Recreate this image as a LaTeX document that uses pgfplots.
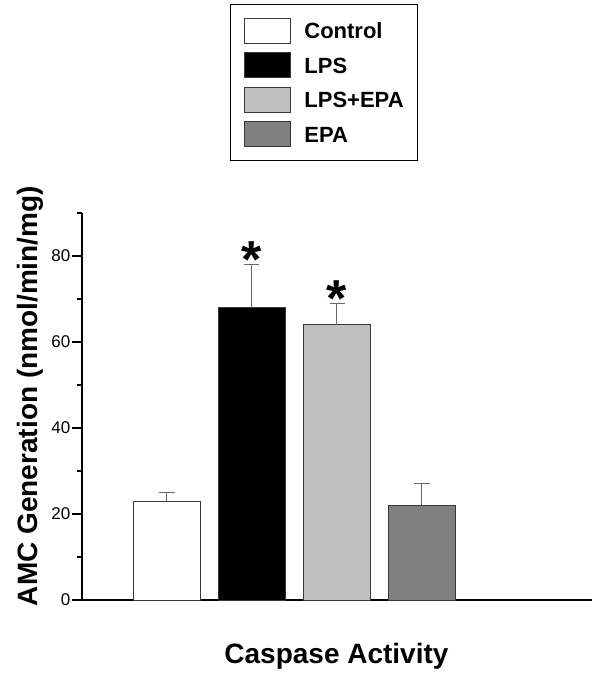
\documentclass[border=0pt]{standalone}
\usepackage{fontspec}
\setmainfont{Liberation Sans}
\usepackage{pgfplots}
\pgfplotsset{compat=1.18}
\definecolor{lpsepa}{RGB}{192,192,192}
\definecolor{epa}{RGB}{128,128,128}
\definecolor{edge}{RGB}{55,55,55}
\definecolor{errc}{RGB}{105,105,105}

\pgfplotsset{
  sw/.style={bar shift=0pt, draw=edge, line width=1pt,
    legend image code/.code={\draw[##1] (0pt,-12.5pt) rectangle (46pt,12.5pt);},
    error bars/y dir=plus, error bars/y explicit,
    error bars/error bar style={errc, line width=1pt},
    error bars/error mark options={errc, rotate=90, mark size=7.5pt, line width=1pt}},
}

\begin{document}
\begin{tikzpicture}
\begin{axis}[name=ax,
  scale only axis, width=510pt, height=387pt,
  xmin=0, xmax=6, ymin=0, ymax=90,
  clip=false,
  ybar, bar width=67pt,
  axis x line*=bottom, axis y line*=left,
  axis line style={line width=1.7pt, black},
  xtick=\empty,
  ytick={0,20,40,60,80}, minor ytick={10,30,50,70,90},
  tick align=outside, major tick length=10pt, minor tick length=5pt,
  tick style={line width=1.2pt, black},
  yticklabel style={font=\fontsize{17}{18}\selectfont, inner sep=1.5pt},
  /pgf/number format/assume math mode=true,
  ylabel={AMC Generation (nmol/min/mg)},
  ylabel style={at={(axis description cs:-0.088,0.527)}, anchor=base, inner sep=0pt,
    font=\fontsize{28}{30}\selectfont\bfseries},
  xlabel={Caspase Activity},
  xlabel style={at={(axis description cs:0.499,-0.163)}, anchor=base, inner sep=0pt,
    font=\fontsize{28}{30}\selectfont\bfseries},
  legend cell align=left,
  legend style={at={(axis description cs:0.290,1.540)}, anchor=north west,
    draw=black, line width=1pt, inner xsep=14pt, inner ysep=13pt,
    row sep=8.5pt, column sep=13pt,
    font=\fontsize{22}{24}\selectfont\bfseries,
    nodes={inner sep=0pt, text height=16pt, text depth=0pt}},
]
\addplot[sw, fill=white] coordinates {(1,23) +- (0,2)};
\addplot[sw, fill=black] coordinates {(2,68) +- (0,10)};
\addplot[sw, fill=lpsepa] coordinates {(3,64) +- (0,5)};
\addplot[sw, fill=epa] coordinates {(4,22) +- (0,5)};
\addplot[bar shift=0pt, draw=none, fill=none, forget plot,
  nodes near coords={*},
  every node near coord/.append style={anchor=south, yshift=-13pt, inner sep=0pt,
    font=\fontsize{52}{52}\selectfont\bfseries}]
  coordinates {(2,78) (3,69)};
\legend{Control, LPS, LPS+EPA, EPA}
\end{axis}
\pgfresetboundingbox
\path ([shift={(-82pt,-77pt)}]ax.south west) rectangle ([shift={(518pt,600pt)}]ax.south west);
\end{tikzpicture}
\end{document}
